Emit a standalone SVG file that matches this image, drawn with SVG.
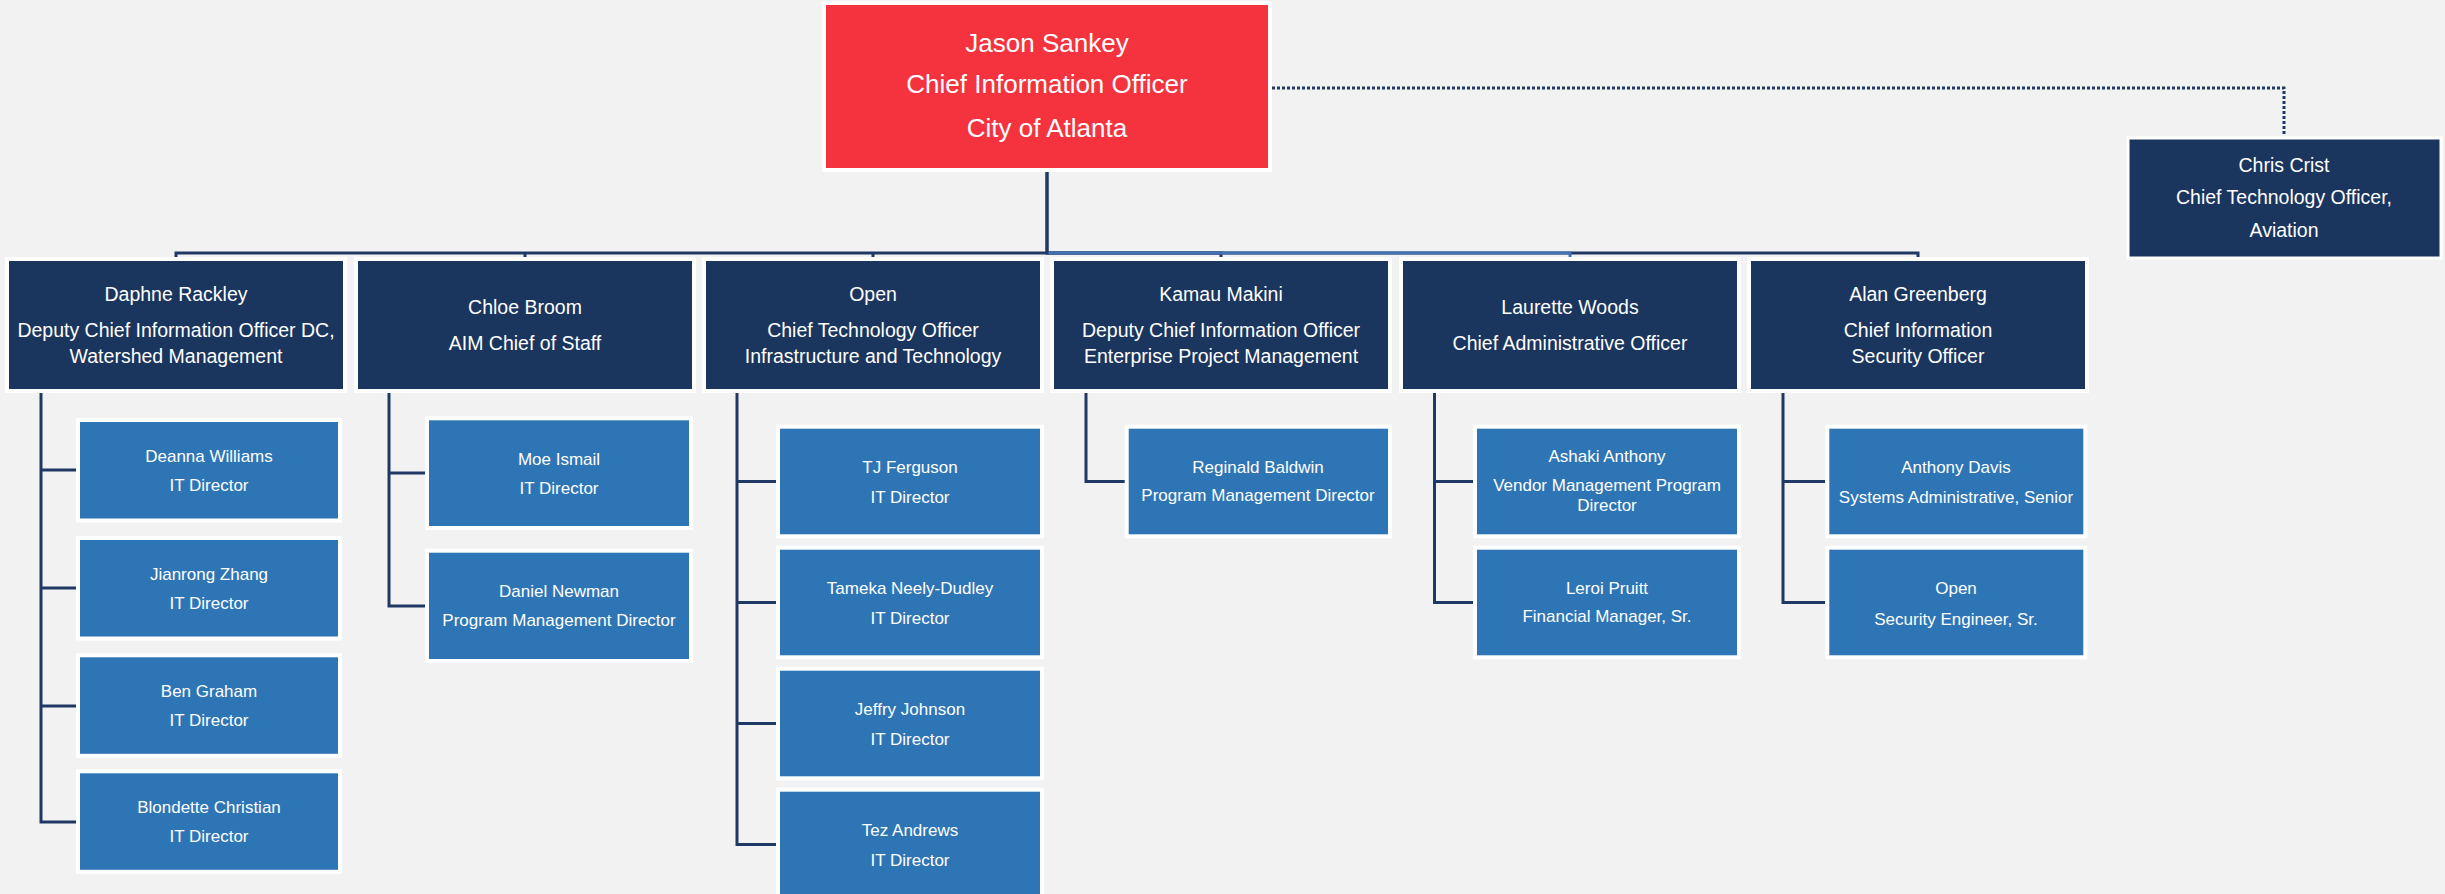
<svg xmlns="http://www.w3.org/2000/svg" width="2445" height="894" viewBox="0 0 2445 894">
<style>
text{font-family:"Liberation Sans",Arial,sans-serif;fill:#fff;text-anchor:middle}
.cio{fill:#F5333F;stroke:#fff;stroke-width:4}
.l1{fill:#1A355E;stroke:#fff;stroke-width:4}
.l2{fill:#2E75B6;stroke:#fff;stroke-width:4}
.t0{font-size:26px}
.t1{font-size:19.5px}
.t2{font-size:17px}
.cn{fill:none;stroke:#1F3864;stroke-width:3}
.cl{fill:none;stroke:#4470B4;stroke-width:3}
.dot{fill:none;stroke:#1F3864;stroke-width:3;stroke-dasharray:3 2}
</style>
<rect x="0" y="0" width="2445" height="894" fill="#F2F2F2"/>

<g id="connectors">
<path class="cn" d="M1047,172 V253 H1918 V257"/>
<path class="cn" d="M1047,253 H1221 V257"/>
<path class="cl" d="M1047,253 H1570 V257"/>
<path class="cn" d="M1047,172 V253 H176 V257"/>
<path class="cn" d="M525,253 V257"/>
<path class="cn" d="M873,253 V257"/>
<path class="dot" d="M1272,88 H2284 V136"/>
<path class="cn" d="M41,393 V822 H76 M41,470 H76 M41,588 H76 M41,706 H76"/>
<path class="cn" d="M389,393 V606 H425 M389,473 H425"/>
<path class="cn" d="M737,393 V844.5 H776 M737,481.5 H776 M737,602.5 H776 M737,723.5 H776"/>
<path class="cn" d="M1086,393 V481.5 H1125"/>
<path class="cn" d="M1434.5,393 V602.5 H1473 M1434.5,481.5 H1473"/>
<path class="cn" d="M1783,393 V602.5 H1825 M1783,481.5 H1825"/>
</g>

<g id="cio">
<rect class="cio" x="824" y="3" width="446" height="167"/>
<text class="t0" x="1047" y="52">Jason Sankey</text>
<text class="t0" x="1047" y="93">Chief Information Officer</text>
<text class="t0" x="1047" y="137">City of Atlanta</text>
</g>

<g id="chris-crist">
<rect class="l1" x="2128" y="138" width="313" height="120" style="stroke-width:3"/>
<text class="t1" x="2284" y="172">Chris Crist</text>
<text class="t1" x="2284" y="204">Chief Technology Officer,</text>
<text class="t1" x="2284" y="237">Aviation</text>
</g>

<g id="daphne-rackley">
<rect class="l1" x="7" y="259" width="338" height="132"/>
<text class="t1" x="176" y="301">Daphne Rackley</text>
<text class="t1" x="176" y="337">Deputy Chief Information Officer DC,</text>
<text class="t1" x="176" y="363">Watershed Management</text>
</g>
<g id="chloe-broom">
<rect class="l1" x="356" y="259" width="338" height="132"/>
<text class="t1" x="525" y="314">Chloe Broom</text>
<text class="t1" x="525" y="350">AIM Chief of Staff</text>
</g>
<g id="open-cto">
<rect class="l1" x="704" y="259" width="338" height="132"/>
<text class="t1" x="873" y="301">Open</text>
<text class="t1" x="873" y="337">Chief Technology Officer</text>
<text class="t1" x="873" y="363">Infrastructure and Technology</text>
</g>
<g id="kamau-makini">
<rect class="l1" x="1052" y="259" width="338" height="132"/>
<text class="t1" x="1221" y="301">Kamau Makini</text>
<text class="t1" x="1221" y="337">Deputy Chief Information Officer</text>
<text class="t1" x="1221" y="363">Enterprise Project Management</text>
</g>
<g id="laurette-woods">
<rect class="l1" x="1401" y="259" width="338" height="132"/>
<text class="t1" x="1570" y="314">Laurette Woods</text>
<text class="t1" x="1570" y="350">Chief Administrative Officer</text>
</g>
<g id="alan-greenberg">
<rect class="l1" x="1749" y="259" width="338" height="132"/>
<text class="t1" x="1918" y="301">Alan Greenberg</text>
<text class="t1" x="1918" y="337">Chief Information</text>
<text class="t1" x="1918" y="363">Security Officer</text>
</g>

<g id="deanna-williams">
<rect class="l2" x="78" y="420" width="262" height="100.5"/>
<text class="t2" x="209" y="462">Deanna Williams</text>
<text class="t2" x="209" y="490.5">IT Director</text>
</g>
<g id="jianrong-zhang">
<rect class="l2" x="78" y="538" width="262" height="100.5"/>
<text class="t2" x="209" y="580">Jianrong Zhang</text>
<text class="t2" x="209" y="608.5">IT Director</text>
</g>
<g id="ben-graham">
<rect class="l2" x="78" y="655.3" width="262" height="100.5"/>
<text class="t2" x="209" y="697.3">Ben Graham</text>
<text class="t2" x="209" y="725.8">IT Director</text>
</g>
<g id="blondette-christian">
<rect class="l2" x="78" y="771.3" width="262" height="100.5"/>
<text class="t2" x="209" y="813.3">Blondette Christian</text>
<text class="t2" x="209" y="841.8">IT Director</text>
</g>

<g id="moe-ismail">
<rect class="l2" x="427" y="418.3" width="264" height="109.7"/>
<text class="t2" x="559" y="465">Moe Ismail</text>
<text class="t2" x="559" y="493.5">IT Director</text>
</g>
<g id="daniel-newman">
<rect class="l2" x="427" y="550.7" width="264" height="110.3"/>
<text class="t2" x="559" y="597.3">Daniel Newman</text>
<text class="t2" x="559" y="626.3">Program Management Director</text>
</g>

<g id="tj-ferguson">
<rect class="l2" x="778" y="426.7" width="264" height="109.6"/>
<text class="t2" x="910" y="473.3">TJ Ferguson</text>
<text class="t2" x="910" y="503.3">IT Director</text>
</g>
<g id="tameka-neely-dudley">
<rect class="l2" x="778" y="547.7" width="264" height="109.6"/>
<text class="t2" x="910" y="594.3">Tameka Neely-Dudley</text>
<text class="t2" x="910" y="624.3">IT Director</text>
</g>
<g id="jeffry-johnson">
<rect class="l2" x="778" y="668.7" width="264" height="109.6"/>
<text class="t2" x="910" y="715.3">Jeffry Johnson</text>
<text class="t2" x="910" y="745.3">IT Director</text>
</g>
<g id="tez-andrews">
<rect class="l2" x="778" y="789.7" width="264" height="109.6"/>
<text class="t2" x="910" y="836.3">Tez Andrews</text>
<text class="t2" x="910" y="866.3">IT Director</text>
</g>

<g id="reginald-baldwin">
<rect class="l2" x="1126.7" y="426.7" width="263.3" height="109.6"/>
<text class="t2" x="1258" y="472.7">Reginald Baldwin</text>
<text class="t2" x="1258" y="501">Program Management Director</text>
</g>

<g id="ashaki-anthony">
<rect class="l2" x="1475" y="426.7" width="264" height="109.6"/>
<text class="t2" x="1607" y="461.7">Ashaki Anthony</text>
<text class="t2" x="1607" y="490.7">Vendor Management Program</text>
<text class="t2" x="1607" y="510.7">Director</text>
</g>
<g id="leroi-pruitt">
<rect class="l2" x="1475" y="547.7" width="264" height="109.6"/>
<text class="t2" x="1607" y="594">Leroi Pruitt</text>
<text class="t2" x="1607" y="621.7">Financial Manager, Sr.</text>
</g>

<g id="anthony-davis">
<rect class="l2" x="1827.3" y="426.7" width="258" height="109.6"/>
<text class="t2" x="1956" y="472.7">Anthony Davis</text>
<text class="t2" x="1956" y="502.7">Systems Administrative, Senior</text>
</g>
<g id="open-security-engineer">
<rect class="l2" x="1827.3" y="547.7" width="258" height="109.6"/>
<text class="t2" x="1956" y="594.3">Open</text>
<text class="t2" x="1956" y="625">Security Engineer, Sr.</text>
</g>
</svg>
